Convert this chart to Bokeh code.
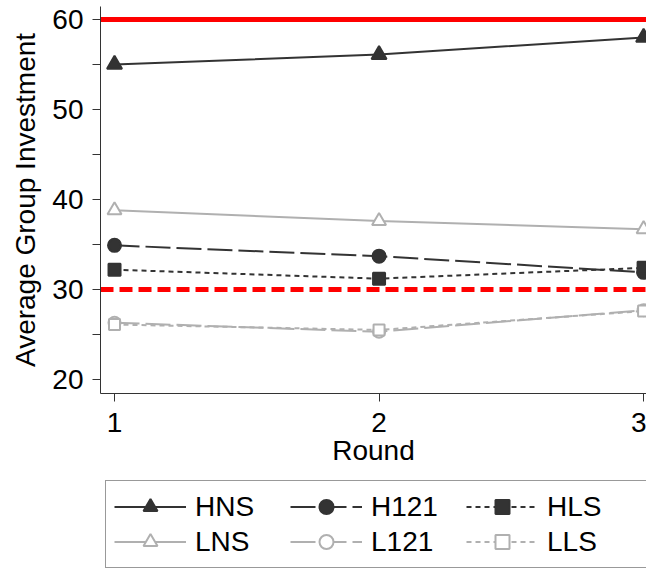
from bokeh.plotting import figure
from bokeh.layouts import column
from bokeh.models import Legend, LegendItem, Range1d, FixedTicker, Span
from bokeh.embed import file_html
from bokeh.resources import INLINE

# ---- data ----
rounds = [1, 2, 3]
HNS = [55.0, 56.1, 58.0]
H121 = [34.9, 33.7, 31.9]
HLS = [32.2, 31.2, 32.4]
LNS = [38.8, 37.6, 36.7]
L121 = [26.3, 25.3, 27.7]
LLS = [26.1, 25.5, 27.6]
upper_ref = 60
lower_ref = 30
y_ticks = [20, 30, 40, 50, 60]
y_minor = [25, 35, 45, 55]
x_ticks = [1, 2, 3]

FONT = "Liberation Sans"
FS = "28px"
DARK = "#333333"
GRAY = "#b0b0b0"

p = figure(width=646, height=480, output_backend="svg", toolbar_location=None,
           x_range=Range1d(0.947, 3.011), y_range=Range1d(18.44, 61.44),
           min_border_left=100, min_border_right=0, min_border_top=6, min_border_bottom=87)
p.outline_line_color = None
p.xgrid.visible = False
p.ygrid.visible = False

for ax in (p.xaxis[0], p.yaxis[0]):
    ax.axis_line_color = DARK
    ax.major_tick_line_color = DARK
    ax.minor_tick_line_color = DARK
    ax.major_tick_out = 8
    ax.major_tick_in = 0
    ax.minor_tick_out = 8
    ax.minor_tick_in = 0
    ax.major_label_text_font = FONT
    ax.major_label_text_font_size = FS
    ax.major_label_text_color = "black"
    ax.axis_label_text_font = FONT
    ax.axis_label_text_font_size = FS
    ax.axis_label_text_font_style = "normal"
    ax.axis_label_text_color = "black"

p.yaxis.ticker = FixedTicker(ticks=y_ticks, minor_ticks=y_minor)
p.xaxis.ticker = FixedTicker(ticks=x_ticks, minor_ticks=[])
p.yaxis.major_label_standoff = 9
p.xaxis.major_label_standoff = 11
p.yaxis.axis_label = "Average Group Investment"
p.xaxis.axis_label = "Round"
p.yaxis.axis_label_standoff = 8
p.xaxis.axis_label_standoff = 0

p.add_layout(Span(location=upper_ref, dimension="width", line_color="#ff0000", line_width=5, level="underlay"))
p.add_layout(Span(location=lower_ref, dimension="width", line_color="#ff0000", line_width=5,
                  line_dash="13 6", level="underlay"))

series = [
    ("HNS", HNS, DARK, "solid", "triangle", DARK, 15),
    ("H121", H121, DARK, "25 6", "circle", DARK, 13),
    ("HLS", HLS, DARK, "5 4", "square", DARK, 12),
    ("LNS", LNS, GRAY, "solid", "triangle", "white", 14),
    ("L121", L121, GRAY, "25 6", "circle", "white", 12),
    ("LLS", LLS, GRAY, "5 4", "square", "white", 11),
]

# legend strip: a frameless figure whose view excludes the data, holding only the legend
pl = figure(width=646, height=89, output_backend="svg", toolbar_location=None,
            x_range=Range1d(100, 101), y_range=Range1d(100, 101),
            x_axis_location=None, y_axis_location=None,
            min_border_left=0, min_border_right=0, min_border_top=0, min_border_bottom=0)
pl.outline_line_color = None
pl.xgrid.visible = False
pl.ygrid.visible = False

items = {}
for name, vals, col, dash, marker, fill, size in series:
    p.line(rounds, vals, line_color=col, line_width=2, line_dash=dash)
    p.scatter(rounds, vals, marker=marker, size=size, line_color=col, fill_color=fill, line_width=2)
    lr = pl.line(rounds, vals, line_color=col, line_width=2, line_dash=dash)
    sr = pl.scatter(rounds, vals, marker=marker, size=size, line_color=col, fill_color=fill,
                    line_width=2)
    items[name] = LegendItem(label=name, renderers=[lr, sr])

order = ["HNS", "H121", "HLS", "LNS", "L121", "LLS"]
legend = Legend(items=[items[k] for k in order], orientation="horizontal", nrows=2,
                location=(5, 1), margin=0,
                glyph_width=72, glyph_height=35, label_height=35, label_width=95,
                label_standoff=9, spacing=0, padding=8,
                label_text_font=FONT, label_text_font_size=FS, label_text_color="black",
                border_line_color=DARK, border_line_width=1.5,
                background_fill_color="white", background_fill_alpha=1.0)
pl.add_layout(legend)

layout = column(p, pl, spacing=0)
open("out.html", "w").write(file_html(layout, INLINE))
